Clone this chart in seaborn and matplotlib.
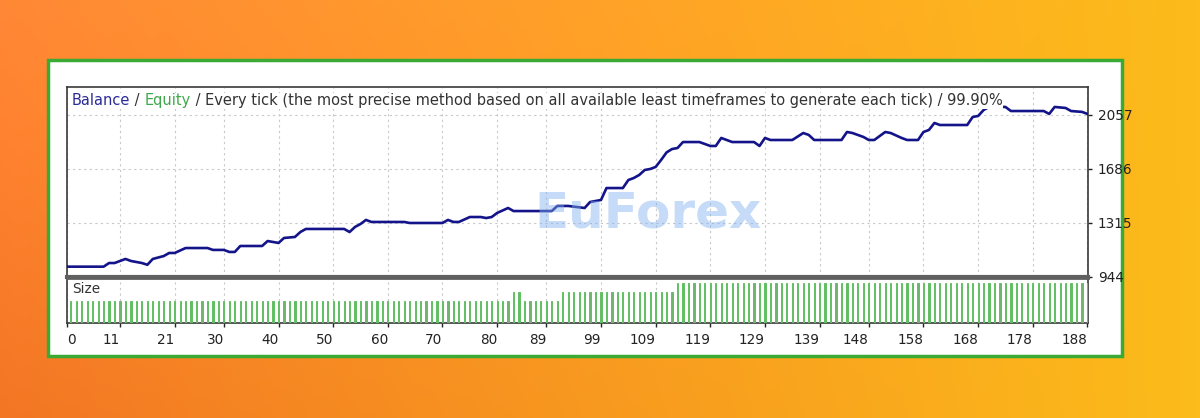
import numpy as np
import pandas as pd
import seaborn as sns
import matplotlib.pyplot as plt
from matplotlib.patches import Rectangle

# balance curve (trade number, balance)
trade = [1, 8, 9, 10, 12, 13, 15, 16, 17, 19, 20, 21, 23, 27, 28, 30, 31, 32, 33, 37,
         38, 40, 41, 43, 44, 45, 52, 53, 54, 55, 56, 57, 63, 64, 70, 71, 72, 73, 75, 77,
         78, 79, 80, 82, 83, 90, 91, 93, 96, 97, 99, 100, 103, 104, 105, 106, 107, 108, 109, 110,
         111, 112, 113, 114, 117, 119, 120, 121, 122, 123, 127, 128, 129, 130, 134, 136, 137, 138, 143, 144,
         145, 147, 148, 149, 151, 152, 154, 155, 157, 158, 159, 160, 161, 166, 167, 168, 169, 170, 173, 174,
         180, 181, 182, 184, 185, 187, 188]
balance = [1015, 1015, 1040, 1040, 1068, 1054, 1040, 1028, 1068, 1088, 1109, 1109, 1143, 1143, 1130, 1130, 1116, 1116, 1157, 1157,
           1191, 1178, 1212, 1219, 1253, 1274, 1274, 1253, 1288, 1308, 1336, 1322, 1322, 1315, 1315, 1336, 1322, 1322, 1356, 1356,
           1349, 1356, 1384, 1418, 1397, 1397, 1432, 1432, 1418, 1459, 1473, 1555, 1555, 1610, 1624, 1645, 1679, 1686, 1700, 1748,
           1800, 1823, 1830, 1871, 1871, 1844, 1844, 1899, 1885, 1871, 1871, 1844, 1899, 1885, 1885, 1933, 1920, 1885, 1885, 1940,
           1933, 1906, 1885, 1885, 1940, 1933, 1899, 1885, 1885, 1940, 1954, 2002, 1988, 1988, 2043, 2050, 2091, 2112, 2112, 2084,
           2084, 2064, 2112, 2105, 2084, 2078, 2064]

# lot size per trade, as runs of (size, count) starting at trade 2
size_runs = [(0.05, 81), (0.07, 2), (0.05, 7), (0.07, 21), (0.09, 76)]

x_labels = ["0", "11", "21", "30", "40", "50", "60", "70", "80", "89", "99", "109",
            "119", "129", "139", "148", "158", "168", "178", "188"]
y_ticks = [944, 1315, 1686, 2057]

sizes = []
for s, n in size_runs:
    sizes += [s] * n
size_df = pd.DataFrame({"trade": range(2, 2 + len(sizes)), "size": sizes})
bal_df = pd.DataFrame({"trade": trade, "balance": balance})

sns.set_style("white")
plt.rcParams['font.family'] = ['DejaVu Sans']

fig = plt.figure(figsize=(12, 4.18), dpi=100)

# orange / yellow background
bg = fig.add_axes([0, 0, 1, 1], zorder=-10)
gx = np.linspace(0, 1, 300)
gy = np.linspace(0, 1, 100)[:, None]
left = np.array([243, 118, 36]) / 255
right = np.array([252, 188, 26]) / 255
img = left[None, None, :] * (1 - gx[None, :, None]) + right[None, None, :] * gx[None, :, None]
img = img * np.ones((100, 1, 1))
img = np.clip(img + 0.07 * (1 - gy[:, :, None]) * (1 - gx[None, :, None]), 0, 1)
bg.imshow(img, aspect='auto', extent=[0, 1, 0, 1])
bg.axis('off')

# white panel with green border
fig.patches.append(Rectangle((48 / 1200, 1 - 356 / 418), 1074 / 1200, 296 / 418,
                             transform=fig.transFigure, facecolor='white',
                             edgecolor='#3aaa35', linewidth=2.5, zorder=-5))

xmin, xmax = 1.3, 188.1
ax = fig.add_axes([67 / 1200, 1 - 277 / 418, 1021 / 1200, 190 / 418])
ax2 = fig.add_axes([67 / 1200, 1 - 323 / 418, 1021 / 1200, 45 / 418])

xt = [max(int(v), xmin) for v in x_labels]

# balance panel
sns.lineplot(data=bal_df, x="trade", y="balance", ax=ax, color='#14148a', linewidth=1.9, zorder=3)
ax.set_xlim(xmin, xmax)
ax.set_ylim(944, 2249)
ax.set_xticks(xt)
ax.set_xticklabels([])
ax.set_yticks(y_ticks)
ax.yaxis.tick_right()
ax.tick_params(axis='y', right=True, length=3, width=1, pad=4, labelsize=9.8, colors='#222222')
ax.tick_params(axis='x', length=0)
ax.grid(True, linestyle=(0, (2, 3)), color='#c8c8c8', linewidth=0.8)
ax.set_xlabel("")
ax.set_ylabel("")
for sp in ax.spines.values():
    sp.set_color('#3a3a3a')
    sp.set_linewidth(1.2)
ax.spines['bottom'].set_color('#606060')
ax.spines['bottom'].set_linewidth(3)

# title in three colours
fs = 10.5
bb = dict(facecolor='white', edgecolor='none', pad=0.3)
t1 = ax.text(0.005, 0.968, "Balance", transform=ax.transAxes, va='top', ha='left',
             fontsize=fs, color='#2b2b9a', bbox=bb, zorder=5)
t2 = ax.annotate(" / ", xy=(1, 0), xycoords=t1, va='bottom', ha='left',
                 fontsize=fs, color='#333333', bbox=bb, zorder=5)
t3 = ax.annotate("Equity", xy=(1, 0), xycoords=t2, va='bottom', ha='left',
                 fontsize=fs, color='#3fa84a', bbox=bb, zorder=5)
ax.annotate(" / Every tick (the most precise method based on all available least timeframes to generate each tick) / 99.90%",
            xy=(1, 0), xycoords=t3, va='bottom', ha='left', fontsize=fs, color='#333333', bbox=bb, zorder=5)

# watermark
ax.text(0.569, 0.335, "EuForex", transform=ax.transAxes, ha='center', va='center',
        fontsize=36, fontweight='bold', color='#7fb0ee', alpha=0.45, zorder=4)

# size panel
sns.barplot(data=size_df, x="trade", y="size", ax=ax2, native_scale=True, width=0.22,
            color='#62c062', edgecolor='#62c062', errorbar=None, linewidth=0.7, zorder=3)
ax2.set_xlim(xmin, xmax)
ax2.set_ylim(0, 0.1)
ax2.set_yticks([])
ax2.set_xticks(xt)
ax2.set_xticklabels(x_labels)
ax2.tick_params(axis='x', bottom=True, length=3, width=1, pad=4, labelsize=9.8, colors='#222222')
for i, lab in enumerate(ax2.get_xticklabels()):
    lab.set_ha('left' if i == 0 else 'right')
ax2.grid(True, axis='x', linestyle=(0, (2, 3)), color='#c8c8c8', linewidth=0.8)
ax2.set_xlabel("")
ax2.set_ylabel("")
for sp in ax2.spines.values():
    sp.set_color('#3a3a3a')
    sp.set_linewidth(1.2)
ax2.spines['top'].set_color('#606060')
ax2.spines['top'].set_linewidth(2)
ax2.text(0.005, 0.92, "Size", transform=ax2.transAxes, va='top', ha='left',
         fontsize=9.8, color='#333333')

fig.savefig("out.png", dpi=100)
